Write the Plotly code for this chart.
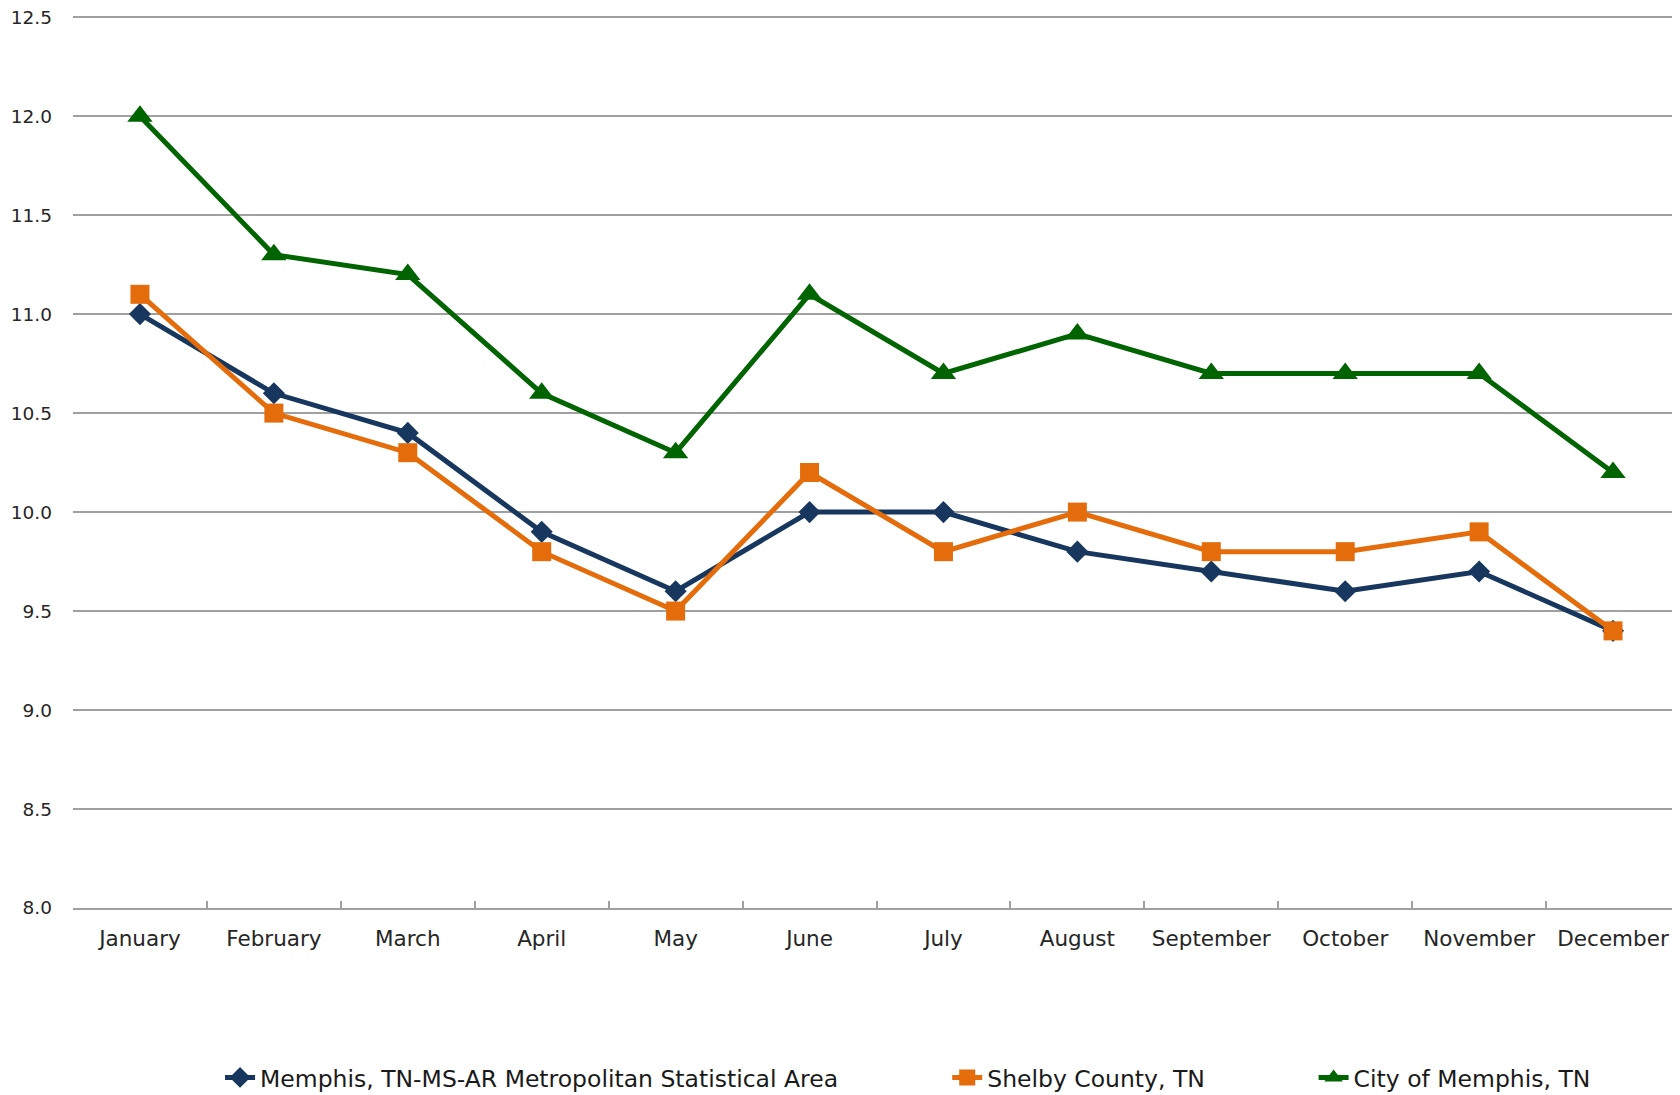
import plotly.graph_objects as go

months = ["January", "February", "March", "April", "May", "June", "July",
          "August", "September", "October", "November", "December"]
msa = [11.0, 10.6, 10.4, 9.9, 9.6, 10.0, 10.0, 9.8, 9.7, 9.6, 9.7, 9.4]
shelby = [11.1, 10.5, 10.3, 9.8, 9.5, 10.2, 9.8, 10.0, 9.8, 9.8, 9.9, 9.4]
city = [12.0, 11.3, 11.2, 10.6, 10.3, 11.1, 10.7, 10.9, 10.7, 10.7, 10.7, 10.2]

names = ["Memphis, TN-MS-AR Metropolitan Statistical Area", "Shelby County, TN", "City of Memphis, TN"]
colors = ["#17375E", "#E46C0A", "#006400"]
symbols = ["diamond", "square", "triangle-up"]
sizes = [17, 19, 22]
FONT = "DejaVu Sans"

fig = go.Figure()
for i, (vals, nm) in enumerate(zip([msa, shelby, city], names)):
    fig.add_trace(go.Scatter(
        x=months, y=vals, name=nm, mode="lines+markers",
        line=dict(color=colors[i], width=5),
        marker=dict(symbol=symbols[i], size=sizes[i], color=colors[i]),
        legend="legend" if i == 0 else f"legend{i+1}",
    ))

leg_common = dict(orientation="h", yanchor="middle", y=-0.19, xanchor="left",
                  font=dict(family=FONT, size=23.5, color="#1a1a1a"),
                  bgcolor="rgba(0,0,0,0)", itemwidth=30)
fig.update_layout(
    width=1672, height=1087,
    margin=dict(l=65, r=0, t=7, b=187, autoexpand=False),
    paper_bgcolor="white", plot_bgcolor="white",
    font=dict(family=FONT, size=20, color="#262626"),
    showlegend=True,
    legend=dict(x=0.0915, **leg_common),
    legend2=dict(x=0.544, **leg_common),
    legend3=dict(x=0.772, **leg_common),
    xaxis=dict(
        type="category", range=[-0.5, 11.5],
        showline=True, linecolor="#A0A0A0", linewidth=2,
        ticks="inside", tickson="boundaries", ticklen=7, tickcolor="#A0A0A0", tickwidth=1.5,
        showgrid=False, ticklabelstandoff=10, ticklabeloverflow="allow",
        tickfont=dict(family=FONT, size=21.5, color="#262626"),
    ),
    yaxis=dict(
        range=[8, 12.511], dtick=0.5, tick0=8, tickformat=".1f",
        showgrid=True, gridcolor="#A0A0A0", gridwidth=2,
        zeroline=False, showline=False, ticks="",
        ticklabelstandoff=20, ticklabeloverflow="allow",
        tickfont=dict(family=FONT, size=18.5, color="#262626"),
    ),
)

fig.write_html("out.html")
